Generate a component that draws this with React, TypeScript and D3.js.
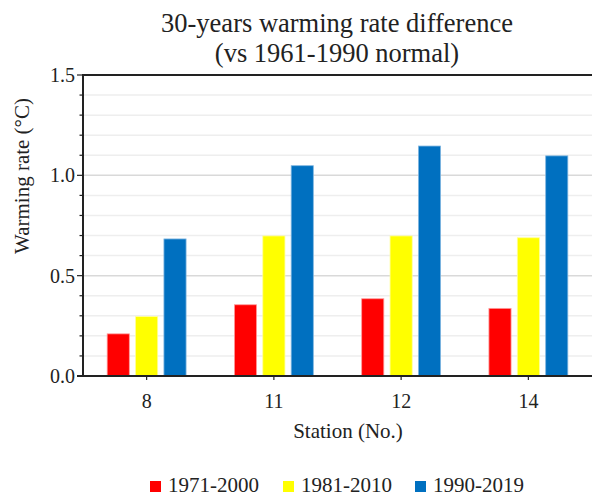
import * as d3 from "d3";

const stations = ["8", "11", "12", "14"];
const periods = ["1971-2000", "1981-2010", "1990-2019"];
const colors = ["#ff0000", "#ffff00", "#0070c0"];
const strokes = ["#ff9b9b", "#ffff9b", "#7fb6e0"];
const rate7100 = [0.21, 0.355, 0.385, 0.337];
const rate8110 = [0.296, 0.698, 0.698, 0.689];
const rate9019 = [0.683, 1.048, 1.146, 1.097];
const yTicks = [0, 0.5, 1.0, 1.5];

const series = [rate7100, rate8110, rate9019];
const FONT = "'Liberation Serif', 'Times New Roman', serif";

function App() {
  const W = 592;
  const H = 496;
  const left = 83;
  const right = 592;
  const top = 75;
  const bottom = 376;

  const x = d3.scaleBand().domain(stations).range([left, right]).paddingInner(0.38).paddingOuter(0.19);
  const xs = d3.scaleBand().domain(periods).range([0, x.bandwidth()]).paddingInner(0.22);
  const y = d3.scaleLinear().domain([0, 1.5]).range([bottom, top]);

  const minor = d3.range(1, 15).map((d) => d / 10);

  return (
    <svg width={W} height={H} style={{ position: "absolute", left: 0, top: 0, background: "#fff" }} fontFamily={FONT}>
      <text x={337} y={32} textAnchor="middle" fontSize={26.5} fill="#222">
        30-years warming rate difference
      </text>
      <text x={337} y={62} textAnchor="middle" fontSize={26.5} fill="#222">
        (vs 1961-1990 normal)
      </text>

      {/* grid */}
      {minor.map((v) => (
        <line
          key={v}
          x1={left}
          x2={right}
          y1={y(v)}
          y2={y(v)}
          stroke={Math.abs((v * 10) % 5) < 0.01 ? "#d9d9d9" : "#eeeeee"}
          strokeWidth={1.5}
        />
      ))}
      <line x1={left} x2={right} y1={y(1.5)} y2={y(1.5)} stroke="#222" strokeWidth={2} />

      {/* bars */}
      {series.map((vals, si) =>
        stations.map((s, i) => (
          <rect
            key={si + "-" + s}
            x={(x(s) as number) + (xs(periods[si]) as number)}
            y={y(vals[i])}
            width={xs.bandwidth()}
            height={bottom - y(vals[i])}
            fill={colors[si]}
            stroke={strokes[si]}
            strokeWidth={0.8}
          />
        ))
      )}

      {/* y axis */}
      <line x1={left} x2={left} y1={top - 1} y2={bottom + 1} stroke="#222" strokeWidth={2} />
      {d3.range(0, 16).map((k) => (
        <line
          key={"t" + k}
          x1={left - (k % 5 === 0 ? 6 : 3.5)}
          x2={left}
          y1={y(k / 10)}
          y2={y(k / 10)}
          stroke="#222"
          strokeWidth={1.2}
        />
      ))}
      {yTicks.map((v) => (
        <text key={v} x={left - 8} y={y(v) + 7} textAnchor="end" fontSize={20} fill="#222">
          {v.toFixed(1)}
        </text>
      ))}
      <text
        transform={`translate(29, 176) rotate(-90)`}
        textAnchor="middle"
        fontSize={21}
        fill="#222"
      >
        Warming rate (°C)
      </text>

      {/* x axis */}
      <line x1={left - 6} x2={right} y1={bottom} y2={bottom} stroke="#222" strokeWidth={2} />
      {stations.map((s) => {
        const cx = (x(s) as number) + x.bandwidth() / 2;
        return (
          <g key={s}>
            <line x1={cx} x2={cx} y1={bottom} y2={bottom + 4} stroke="#222" strokeWidth={1.2} />
            <text x={cx} y={408} textAnchor="middle" fontSize={20} fill="#222">
              {s}
            </text>
          </g>
        );
      })}
      <text x={348} y={438} textAnchor="middle" fontSize={21} fill="#222">
        Station (No.)
      </text>

      {/* legend */}
      {periods.map((p, i) => {
        const lx = [150, 283, 415][i];
        return (
          <g key={p}>
            <rect x={lx} y={481} width={11} height={11} fill={colors[i]} />
            <text x={lx + 18} y={492} fontSize={21} fill="#222">
              {p}
            </text>
          </g>
        );
      })}
    </svg>
  );
}

export default App;
